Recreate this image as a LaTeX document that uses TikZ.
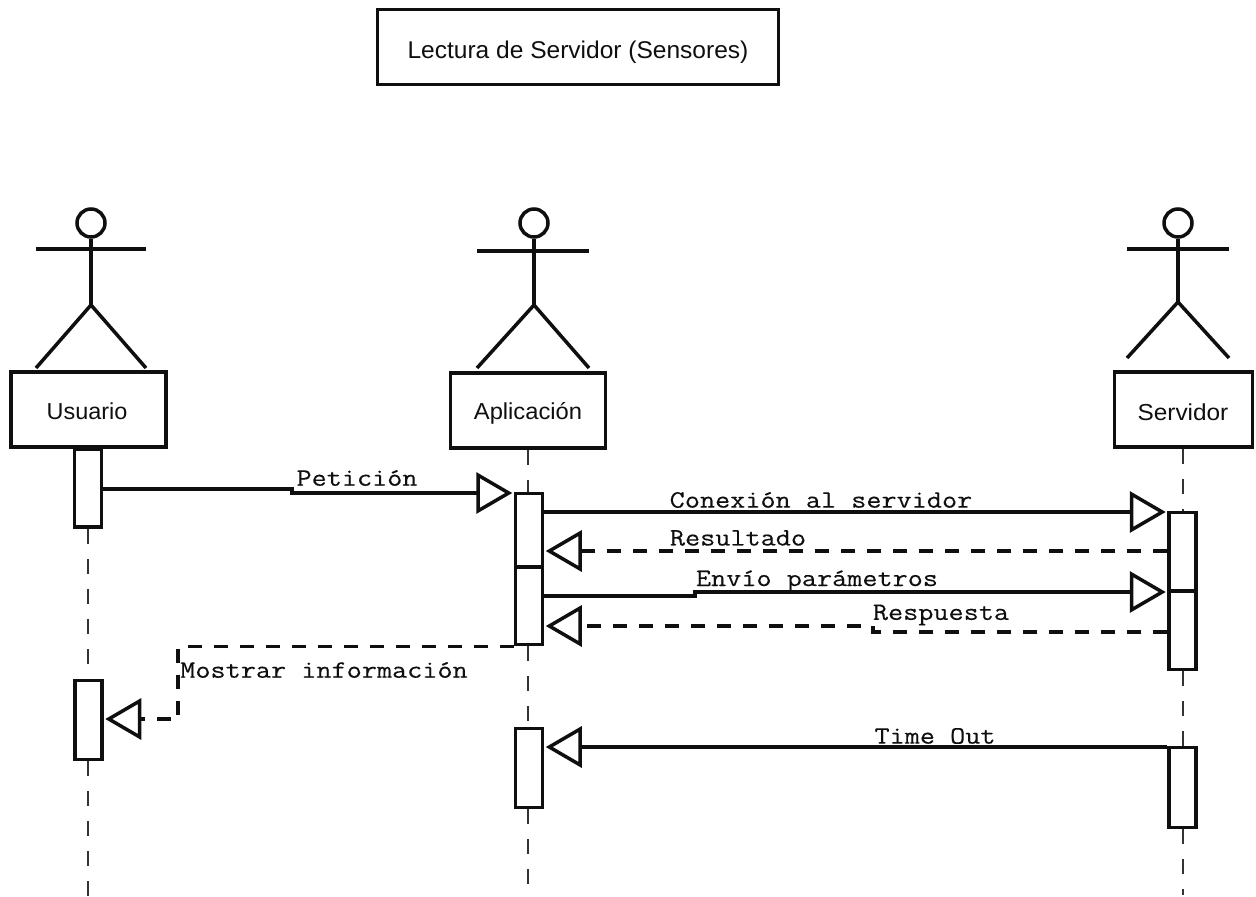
\documentclass[tikz,border=0pt]{standalone}
\usepackage{fontspec}
\setsansfont{Liberation Sans}
\setmonofont[FakeBold=0.25]{Latin Modern Mono}
\usetikzlibrary{arrows.meta}
\newcommand{\msgtext}[1]{\scalebox{1.175}[1]{\fontsize{25}{27}\selectfont\ttfamily\bfseries #1}}
\newcommand{\boxtext}[2]{\scalebox{#1}[1.1]{\fontsize{21}{25}\selectfont\sffamily #2}}
\definecolor{ink}{gray}{0.06}
\tikzset{
  ink line/.style={draw=ink,line width=3.5pt},
  namebox/.style={ink line,fill=white,inner sep=0pt,minimum width=155pt,minimum height=75pt},
  actbar/.style={ink line,fill=white,inner sep=0pt,minimum width=27pt},
  lifeline/.style={draw=ink!85,line width=2pt,dash pattern=on 15pt off 15pt},
  limb/.style={ink line},
  head/.style={circle,ink line,fill=white,inner sep=0pt,minimum size=28pt},
  msgtip/.style={-{Triangle[open,length=36pt,width=41pt,line width=3.5pt,fill=white]},shorten >=1.5pt},
  msg/.style={ink line,msgtip,line join=miter},
  reply/.style={msg,dash pattern=on 14pt off 12pt},
  msglabel/.style={inner sep=0pt,text=ink},
}
\begin{document}
\begin{tikzpicture}[x=1pt,y=-1pt]
\useasboundingbox (0,0) rectangle (1256,897);

% title
\node[namebox,minimum width=401pt,minimum height=75pt] (title) at (578,47) {};
\node[inner sep=0pt,text=ink] (titletext) at (578,52) {\scalebox{1.115}[1.1]{\fontsize{22}{25}\selectfont\sffamily Lectura de Servidor (Sensores)}};

% name boxes
\node[namebox] (usuario) at (88.5,409.5) {};
\node[namebox] (aplicacion) at (528,410.5) {};
\node[namebox,minimum width=138pt] (servidor) at (1183.5,409.5) {};
\node[inner sep=0pt,text=ink] (usuariot) at (87,411) {\boxtext{1.115}{Usuario}};
\node[inner sep=0pt,text=ink] (aplicaciont) at (528,413.5) {\boxtext{1.13}{Aplicación}};
\node[inner sep=0pt,text=ink] (servidort) at (1183,412) {\boxtext{1.16}{Servidor}};

% actors
\node[head] (h1) at (91,223) {};
\coordinate (w1) at (91,305);
\coordinate (a1l) at (36,249); \coordinate (a1r) at (146,249);
\coordinate (f1l) at (36,368); \coordinate (f1r) at (146,368);
\draw[limb] (h1) -- (w1); \draw[limb] (a1l) -- (a1r);
\draw[limb] (f1l) -- (w1) -- (f1r);

\node[head] (h2) at (534,223) {};
\coordinate (w2) at (534,305);
\coordinate (a2l) at (477,251); \coordinate (a2r) at (589,251);
\coordinate (f2l) at (477,368); \coordinate (f2r) at (589,368);
\draw[limb] (h2) -- (w2); \draw[limb] (a2l) -- (a2r);
\draw[limb] (f2l) -- (w2) -- (f2r);

\node[head] (h3) at (1178,223) {};
\coordinate (w3) at (1178,302);
\coordinate (a3l) at (1127,249); \coordinate (a3r) at (1229,249);
\coordinate (f3l) at (1127,358); \coordinate (f3r) at (1229,358);
\draw[limb] (h3) -- (w3); \draw[limb] (a3l) -- (a3r);
\draw[limb] (f3l) -- (w3) -- (f3r);

% activation bars
\node[actbar,minimum height=78pt] (u1) at (88,488) {};
\node[actbar,minimum height=79pt] (u2) at (88.5,720) {};
\node[actbar,minimum height=73pt] (a1) at (529,530) {};
\node[actbar,minimum height=77pt] (a2) at (529,606) {};
\node[actbar,minimum height=79pt] (a3) at (529,768) {};
\node[actbar,minimum height=78pt] (s1) at (1182.5,551.5) {};
\node[actbar,minimum height=78pt] (s2) at (1182.5,630.5) {};
\node[actbar,minimum height=80pt] (s3) at (1182.5,787.5) {};

% life lines
\coordinate (endu) at (88,897);
\coordinate (enda) at (528,890);
\coordinate (ends) at (1182.5,895);
\draw[lifeline] (u1.south) -- (u1.south |- u2.north);
\draw[lifeline] (u1.south |- u2.south) -- (endu);
\draw[lifeline] (aplicacion.south) -- (aplicacion.south |- a1.north);
\draw[lifeline] (aplicacion.south |- a2.south) -- (aplicacion.south |- a3.north);
\draw[lifeline] (aplicacion.south |- a3.south) -- (enda);
\draw[lifeline] (s1.north |- servidor.south) -- (s1.north);
\draw[lifeline] (s2.south) -- (s3.north);
\draw[lifeline] (s3.south) -- (ends);

% messages
\coordinate (pa) at (292,489); \coordinate (pb) at (292,493);
\draw[msg] (u1.east |- pa) -- (pa) -- (pb) -- (a1.west |- pb);
\coordinate (cn) at (700,512);
\draw[msg] (a1.east |- cn) -- (s1.west |- cn);
\coordinate (rs) at (700,551);
\draw[reply] (s1.west |- rs) -- (a1.east |- rs);
\coordinate (ea) at (695,596); \coordinate (eb) at (695,592);
\draw[msg] (a2.east |- ea) -- (ea) -- (eb) -- (s2.west |- eb);
\coordinate (ra) at (873,632); \coordinate (rb) at (873,626);
\draw[reply] (s2.west |- ra) -- (ra) -- (rb) -- (a2.east |- rb);
\coordinate (ma) at (178,645); \coordinate (mb) at (178,719);
\draw[reply] (a2.south west) -- (a2.south west -| ma) -- (mb) -- (u2.east |- mb);
\coordinate (to) at (700,747);
\draw[msg] (s3.north west |- to) -- (a3.east |- to);

% labels
\node[msglabel] (lp) at (357,478) {\msgtext{Petición}};
\node[msglabel] (lc) at (821,500) {\msgtext{Conexión al servidor}};
\node[msglabel] (lr) at (738,538) {\msgtext{Resultado}};
\node[msglabel] (le) at (817,581) {\msgtext{Envío parámetros}};
\node[msglabel] (lq) at (941,615) {\msgtext{Respuesta}};
\node[msglabel] (lm) at (324,670) {\msgtext{Mostrar información}};
\node[msglabel] (lt) at (935,736) {\msgtext{Time Out}};
\end{tikzpicture}
\end{document}
